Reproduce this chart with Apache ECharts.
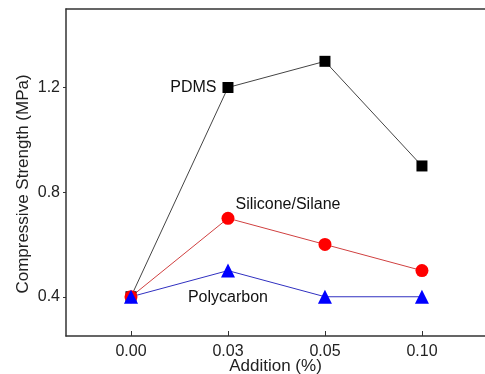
<!DOCTYPE html>
<html>
<head>
<meta charset="utf-8">
<script src="https://cdn.jsdelivr.net/npm/echarts@6/dist/echarts.min.js"></script>
<style>
  * { margin: 0; padding: 0; }
  #chart-container { width: 485px; height: 374px; background: #fff; }
</style>
</head>
<body>
<div id="chart-container"></div>
<script>
  // data
  var categories = ['0.00', '0.03', '0.05', '0.10']
  var pdms = [0.4, 1.2, 1.3, 0.9]
  var silicone = [0.4, 0.7, 0.6, 0.5]
  var polycarbon = [0.4, 0.5, 0.4, 0.4]
  var yTicks = [0.4, 0.8, 1.2]

  function pairs(arr) {
    return arr.map(function (v, i) { return [i, v] })
  }

  var font = 'Liberation Sans, Arial, sans-serif'
  var myChart = echarts.init(document.getElementById('chart-container'), null, { renderer: 'canvas' })

  var option = {
    animation: false,
    grid: { left: 66, right: 0, top: 9, bottom: 38, outerBoundsMode: 'none' },
    xAxis: [
      {
        type: 'value',
        min: -0.67,
        max: 3.65,
        name: 'Addition (%)',
        nameLocation: 'middle',
        nameGap: 22,
        nameMoveOverlap: false,
        nameTextStyle: { fontFamily: font, fontSize: 17, color: '#222' },
        axisLine: { onZero: false, lineStyle: { color: '#333', width: 1.5 } },
        axisTick: { inside: true, length: 5, lineStyle: { color: '#333' }, customValues: [0, 1, 2, 3] },
        axisLabel: {
          fontFamily: font, fontSize: 16, color: '#222', margin: 8,
          customValues: [0, 1, 2, 3],
          formatter: function (v) { return categories[Math.round(v)] }
        },
        splitLine: { show: false }
      },
      {
        type: 'value',
        position: 'top',
        min: -0.67,
        max: 3.65,
        axisLine: { show: true, onZero: false, lineStyle: { color: '#333', width: 1.5 } },
        axisTick: { show: false },
        axisLabel: { show: false },
        splitLine: { show: false }
      }
    ],
    yAxis: {
      type: 'value',
      min: 0.25,
      max: 1.5,
      name: 'Compressive Strength (MPa)',
      nameLocation: 'middle',
      nameGap: 34,
      nameMoveOverlap: false,
      nameTextStyle: { fontFamily: font, fontSize: 17, color: '#222', padding: [0, 0, 0, -23] },
      axisLine: { show: true, onZero: false, lineStyle: { color: '#333', width: 1.5 } },
      axisTick: { length: 3, lineStyle: { color: '#333' }, customValues: yTicks },
      axisLabel: {
        fontFamily: font, fontSize: 16, color: '#222', margin: 6,
        customValues: yTicks,
        formatter: function (v) { return v.toFixed(1) }
      },
      splitLine: { show: false }
    },
    series: [
      {
        name: 'PDMS',
        type: 'line',
        data: pairs(pdms),
        symbol: 'rect',
        symbolSize: 11,
        itemStyle: { color: '#000' },
        lineStyle: { color: '#444', width: 1 },
        label: {
          show: true,
          position: 'left',
          distance: 6,
          fontFamily: font, fontSize: 16, color: '#111',
          formatter: function (p) { return p.dataIndex === 1 ? 'PDMS' : '' }
        }
      },
      {
        name: 'Silicone/Silane',
        type: 'line',
        data: pairs(silicone),
        symbol: 'circle',
        symbolSize: 13,
        itemStyle: { color: '#ff0000' },
        lineStyle: { color: '#d04040', width: 1 },
        label: {
          show: true,
          position: 'right',
          distance: 1,
          offset: [0, -14],
          fontFamily: font, fontSize: 16, color: '#111',
          formatter: function (p) { return p.dataIndex === 1 ? 'Silicone/Silane' : '' }
        }
      },
      {
        name: 'Polycarbon',
        type: 'line',
        data: pairs(polycarbon),
        symbol: 'triangle',
        symbolSize: 14,
        itemStyle: { color: '#0000ff' },
        lineStyle: { color: '#3030c0', width: 1 },
        label: {
          show: true,
          position: 'bottom',
          distance: 12,
          fontFamily: font, fontSize: 16, color: '#111',
          formatter: function (p) { return p.dataIndex === 1 ? 'Polycarbon' : '' }
        }
      }
    ]
  }

  myChart.setOption(option)
  window.addEventListener('resize', myChart.resize)
</script>
</body>
</html>
